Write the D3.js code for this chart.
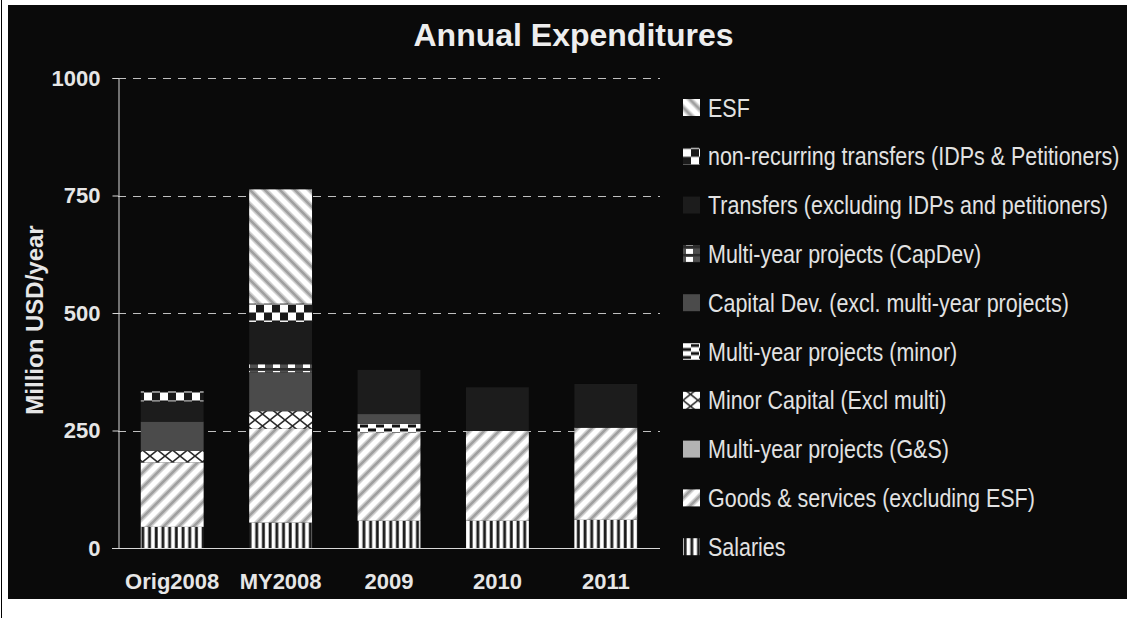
<!DOCTYPE html>
<html>
<head>
<meta charset="utf-8">
<script src="https://cdn.jsdelivr.net/npm/d3@7"></script>
<style>
  html, body { margin: 0; padding: 0; background: #ffffff; }
  svg { display: block; }
</style>
</head>
<body>
<svg id="chart" width="1127" height="618"></svg>
<script>
// ---------------- DATA ----------------
const categories = ["Orig2008", "MY2008", "2009", "2010", "2011"];
const seriesNames = [
  "Salaries",
  "Goods & services (excluding ESF)",
  "Multi-year projects (G&S)",
  "Minor Capital (Excl multi)",
  "Multi-year projects (minor)",
  "Capital Dev. (excl. multi-year projects)",
  "Multi-year projects (CapDev)",
  "Transfers (excluding IDPs and petitioners)",
  "non-recurring transfers (IDPs & Petitioners)",
  "ESF"
];
const salaries      = [45, 54, 58, 58, 60];
const goodsServices = [137, 200, 187, 191, 196];
const multiYearGS   = [0, 0, 0, 0, 0];
const minorCapital  = [25, 37, 0, 0, 0];
const multiYearMinor= [0, 0, 19, 0, 0];
const capitalDev    = [62, 83, 21, 0, 0];
const multiYearCapDev = [0, 17, 0, 0, 0];
const transfers     = [43, 90, 94, 93, 93];
const nonRecurring  = [21, 39, 0, 0, 0];
const esf           = [0, 243, 0, 0, 0];
const yTickValues   = [0, 250, 500, 750, 1000];
const chartTitle = "Annual Expenditures";
const yAxisTitle = "Million USD/year";

const seriesValues = [salaries, goodsServices, multiYearGS, minorCapital, multiYearMinor,
  capitalDev, multiYearCapDev, transfers, nonRecurring, esf];

const table = categories.map((c, i) => {
  const row = { category: c };
  seriesNames.forEach((s, k) => row[s] = seriesValues[k][i]);
  return row;
});

// ---------------- SETUP ----------------
const svg = d3.select("#chart");
const W = 1127, H = 618;

// frame
svg.append("rect").attr("x", 0).attr("y", 0).attr("width", W).attr("height", H).attr("fill", "#ffffff");
svg.append("line").attr("x1", 1.5).attr("x2", 1.5).attr("y1", 0).attr("y2", H)
  .attr("stroke", "#000").attr("stroke-width", 1);
svg.append("rect").attr("x", 8).attr("y", 5).attr("width", W - 8).attr("height", 594).attr("fill", "#0a0a0a");

// patterns
const defs = svg.append("defs");
function pat(id, w, h) {
  return defs.append("pattern").attr("id", id).attr("patternUnits", "userSpaceOnUse")
    .attr("width", w).attr("height", h);
}
// Salaries: vertical stripes
{
  const p = pat("p-sal", 6.7, 10);
  p.append("rect").attr("width", 6.7).attr("height", 10).attr("fill", "#ffffff");
  p.append("rect").attr("x", 0.4).attr("width", 3.4).attr("height", 10).attr("fill", "#8a8a8a");
  p.append("rect").attr("x", 1).attr("width", 2.3).attr("height", 10).attr("fill", "#1a1a1a");
}
// Goods: /// diagonal
{
  const p = pat("p-goods", 15, 15);
  p.append("rect").attr("width", 15).attr("height", 15).attr("fill", "#ffffff");
  const d = "M-4,4 L4,-4 M0,15 L15,0 M11,19 L19,11";
  p.append("path").attr("d", d).attr("stroke", "#d0d0d0").attr("stroke-width", 5.5).attr("fill", "none");
  p.append("path").attr("d", d).attr("stroke", "#a0a0a0").attr("stroke-width", 2.6).attr("fill", "none");
}
// ESF: \\\ diagonal
{
  const p = pat("p-esf", 15, 15);
  p.append("rect").attr("width", 15).attr("height", 15).attr("fill", "#ffffff");
  const d = "M0,0 L15,15 M-4,11 L4,19 M11,-4 L19,4";
  p.append("path").attr("d", d).attr("stroke", "#d0d0d0").attr("stroke-width", 5.5).attr("fill", "none");
  p.append("path").attr("d", d).attr("stroke", "#a0a0a0").attr("stroke-width", 2.6).attr("fill", "none");
}
// Minor capital: X lattice
{
  const p = pat("p-minor", 15, 12);
  p.append("rect").attr("width", 15).attr("height", 12).attr("fill", "#ffffff");
  p.append("path").attr("d", "M0,0 L15,12 M15,0 L0,12").attr("stroke", "#2a2a2a")
    .attr("stroke-width", 1.6).attr("fill", "none");
}
// Multi-year minor: small offset blocks
{
  const p = pat("p-mym", 16, 8);
  p.append("rect").attr("width", 16).attr("height", 8).attr("fill", "#ffffff");
  p.append("rect").attr("x", 8).attr("y", 0.5).attr("width", 8).attr("height", 3).attr("fill", "#111");
  p.append("rect").attr("x", 0).attr("y", 4.5).attr("width", 8).attr("height", 3).attr("fill", "#111");
}
// Multi-year CapDev: white blocks on gray
{
  const p = pat("p-mycd", 15, 8);
  p.append("rect").attr("width", 15).attr("height", 8).attr("fill", "#4f4f4f");
  p.append("rect").attr("width", 15).attr("height", 2.5).attr("fill", "#2a2a2a");
  p.append("rect").attr("x", 3).attr("y", 3).attr("width", 7).attr("height", 5).attr("fill", "#ffffff");
}
// Non-recurring: checkerboard
{
  const p = pat("p-nonrec", 16, 16);
  p.append("rect").attr("width", 16).attr("height", 16).attr("fill", "#ffffff");
  p.append("rect").attr("x", 0).attr("y", 0).attr("width", 8).attr("height", 8).attr("fill", "#1a1a1a");
  p.append("rect").attr("x", 8).attr("y", 8).attr("width", 8).attr("height", 8).attr("fill", "#1a1a1a");
  p.append("path").attr("d", "M0,0.5 H16 M0,8.5 H16").attr("stroke", "#8a8a8a").attr("stroke-width", 1);
}

const fills = {
  "Salaries": "url(#p-sal)",
  "Goods & services (excluding ESF)": "url(#p-goods)",
  "Multi-year projects (G&S)": "#b3b3b3",
  "Minor Capital (Excl multi)": "url(#p-minor)",
  "Multi-year projects (minor)": "url(#p-mym)",
  "Capital Dev. (excl. multi-year projects)": "#4b4b4b",
  "Multi-year projects (CapDev)": "url(#p-mycd)",
  "Transfers (excluding IDPs and petitioners)": "#1c1c1c",
  "non-recurring transfers (IDPs & Petitioners)": "url(#p-nonrec)",
  "ESF": "url(#p-esf)"
};

// scales
const x = d3.scaleBand().domain(categories).range([118, 660]).paddingInner(0.42).paddingOuter(0.21);
const y = d3.scaleLinear().domain([0, 1000]).range([548, 78]);

// gridlines
svg.append("g").selectAll("line").data(yTickValues.filter(v => v > 0)).join("line")
  .attr("x1", 118).attr("x2", 660)
  .attr("y1", d => Math.round(y(d)) + 0.5).attr("y2", d => Math.round(y(d)) + 0.5)
  .attr("stroke", "#c0c0c0").attr("stroke-width", 1).attr("stroke-dasharray", "8,7");

// bars
const stack = d3.stack().keys(seriesNames)(table);
svg.append("g").selectAll("g").data(stack).join("g")
  .attr("fill", d => fills[d.key])
  .selectAll("rect").data(d => d).join("rect")
  .attr("x", d => x(d.data.category))
  .attr("width", x.bandwidth())
  .attr("y", d => y(d[1]))
  .attr("height", d => Math.max(0, y(d[0]) - y(d[1])));

// y axis
const yAxis = svg.append("g").attr("transform", "translate(118.5,0)")
  .call(d3.axisLeft(y).tickValues(yTickValues).tickSize(6).tickPadding(12).tickFormat(d3.format("d")));
yAxis.select(".domain").attr("stroke", "#d8d8d8");
yAxis.selectAll(".tick line").attr("stroke", "#d8d8d8");
yAxis.selectAll(".tick text").attr("fill", "#e6e6e6")
  .style("font-family", "'Liberation Sans', Arial, sans-serif")
  .style("font-weight", "bold").style("font-size", "22px");

// x axis
const xAxis = svg.append("g").attr("transform", "translate(0,548.5)")
  .call(d3.axisBottom(x).tickSize(0).tickPadding(25));
xAxis.select(".domain").attr("stroke", "#d8d8d8").attr("d", "M112,0H660");
xAxis.selectAll(".tick text").attr("fill", "#e6e6e6")
  .style("font-family", "'Liberation Sans', Arial, sans-serif")
  .style("font-weight", "bold").style("font-size", "22px");

// title
svg.append("text").attr("x", 573.5).attr("y", 46).attr("text-anchor", "middle")
  .attr("fill", "#eeeeee")
  .style("font-family", "'Liberation Sans', Arial, sans-serif")
  .style("font-weight", "bold").style("font-size", "32px")
  .text(chartTitle);

// y axis title
svg.append("text").attr("transform", "translate(43,320) rotate(-90)")
  .attr("text-anchor", "middle").attr("fill", "#e6e6e6")
  .style("font-family", "'Liberation Sans', Arial, sans-serif")
  .style("font-weight", "bold").style("font-size", "24px")
  .text(yAxisTitle);

// legend (reverse order, top = ESF)
const legendNames = seriesNames.slice().reverse();
const leg = svg.append("g").selectAll("g").data(legendNames).join("g")
  .attr("transform", (d, i) => `translate(683,${107.5 + i * 48.8})`);
leg.append("rect").attr("x", 0).attr("y", -8.5).attr("width", 17).attr("height", 17)
  .attr("fill", d => fills[d]);
leg.append("text").attr("transform", "translate(25,9) scale(0.826,1)").attr("fill", "#e2e2e2")
  .style("font-family", "'Liberation Sans', Arial, sans-serif")
  .style("font-size", "26px")
  .text(d => d);
</script>
</body>
</html>
